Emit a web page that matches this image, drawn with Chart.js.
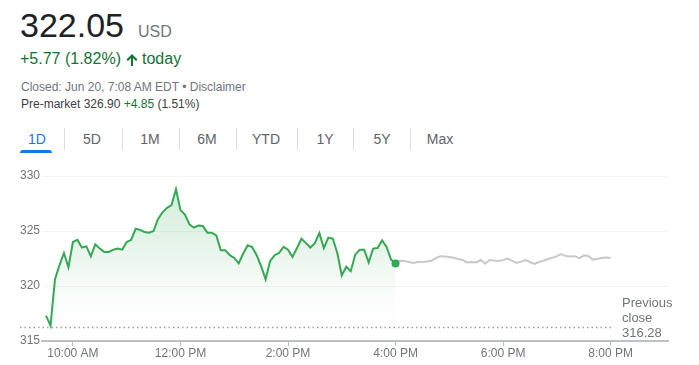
<!DOCTYPE html>
<html>
<head>
<meta charset="utf-8">
<script src="https://cdn.jsdelivr.net/npm/chart.js@4"></script>
<style>
  body { margin: 0; width: 699px; height: 365px; background: #fff; position: relative; overflow: hidden;
         font-family: Arial, "Liberation Sans", sans-serif; }
  .t { position: absolute; line-height: 1; white-space: nowrap; }
  .tab { position: absolute; top: 132px; width: 50px; text-align: center; font-size: 14px; line-height: 1; color: #5f6368; }
  .sep { position: absolute; top: 128px; width: 1px; height: 22px; background: #dadce0; }
  #chart { position: absolute; left: 0; top: 160px; }
</style>
</head>
<body>
<div class="t" style="left:20px;top:8px;font-size:34px;color:#202124;">322.05</div>
<div class="t" style="left:138px;top:23.5px;font-size:16px;color:#70757a;">USD</div>
<div class="t" style="left:20px;top:50.5px;font-size:16px;color:#137333;">+5.77 (1.82%)</div>
<svg style="position:absolute;left:126px;top:54px;" width="12" height="12" viewBox="0 0 12 12">
  <path d="M6 0 L11.5 5.5 L10 7 L7 4 L7 12 L5 12 L5 4 L2 7 L0.5 5.5 Z" fill="#137333"/>
</svg>
<div class="t" style="left:142px;top:50.5px;font-size:16px;color:#137333;">today</div>
<div class="t" style="left:21px;top:81px;font-size:12px;color:#70757a;">Closed: Jun 20, 7:08 AM EDT • Disclaimer</div>
<div class="t" style="left:21px;top:97.5px;font-size:12px;color:#3c4043;">Pre-market 326.90 <span style="color:#137333">+4.85</span> (1.51%)</div>

<div class="tab" style="left:12px;color:#1a73e8;">1D</div>
<div style="position:absolute;left:20px;top:150px;width:32px;height:3px;background:#1a73e8;border-radius:3px 3px 0 0;"></div>
<div class="sep" style="left:64px"></div>
<div class="tab" style="left:67px;">5D</div>
<div class="sep" style="left:122px"></div>
<div class="tab" style="left:125px;">1M</div>
<div class="sep" style="left:179px"></div>
<div class="tab" style="left:182px;">6M</div>
<div class="sep" style="left:236px"></div>
<div class="tab" style="left:241px;">YTD</div>
<div class="sep" style="left:297px"></div>
<div class="tab" style="left:300px;">1Y</div>
<div class="sep" style="left:353px"></div>
<div class="tab" style="left:357px;">5Y</div>
<div class="sep" style="left:410px"></div>
<div class="tab" style="left:415px;">Max</div>

<canvas id="chart" width="699" height="205"></canvas>

<script>
// 5-minute prices, regular session 9:30 AM - 4:00 PM
const regularPrices = [
  317.3, 316.4, 320.6, 321.9, 323.0, 321.7, 324.0, 324.2, 323.5, 323.6,
  322.7, 323.8, 323.4, 323.1, 323.1, 323.3, 323.4, 323.3, 324.0, 324.2,
  325.2, 325.1, 324.9, 324.85, 325.0, 326.1, 326.7, 327.1, 327.35, 328.8,
  326.9, 326.5, 325.6, 325.3, 325.5, 325.45, 324.85, 324.85, 324.6, 323.25,
  323.25, 322.8, 322.55, 322.05, 322.95, 323.7, 323.55, 322.8, 321.8, 320.6,
  322.25, 322.8, 323.0, 323.55, 323.3, 322.65, 323.45, 324.3, 323.9, 323.5,
  323.9, 324.8, 323.45, 324.4, 324.3, 323.0, 320.95, 321.75, 321.35, 322.85,
  323.3, 323.3, 322.15, 323.4, 323.45, 324.15, 323.55, 322.4, 322.05
];
// after hours 4:00 PM - 8:00 PM
const afterHoursPrices = [
  322.05, 322.3, 322.27, 322.18, 322.1, 322.18, 322.18, 322.22, 322.3, 322.54,
  322.71, 322.68, 322.63, 322.56, 322.45, 322.36, 322.13, 322.18, 322.13, 322.36,
  322.04, 322.36, 322.31, 322.27, 322.36, 322.5, 322.31, 322.09, 322.22, 322.36,
  322.18, 322.0, 322.18, 322.31, 322.45, 322.56, 322.72, 322.9, 322.72, 322.68,
  322.71, 322.54, 322.77, 322.72, 322.4, 322.45, 322.54, 322.59, 322.54
];
const tickMinutes = [600, 720, 840, 960, 1080, 1200];
const tickLabels = ['10:00 AM', '12:00 PM', '2:00 PM', '4:00 PM', '6:00 PM', '8:00 PM'];
const yTicks = [315, 320, 325, 330];
const previousClose = 316.28;
const openMinute = 570;
const closeMinute = 960;
const stepMinutes = 5;

const green = '#34a853';
const gray = '#70757a';

const prevClosePlugin = {
  id: 'prevClose',
  beforeDatasetsDraw(chart) {
    const ctx = chart.ctx;
    const y = Math.round(chart.scales.y.getPixelForValue(previousClose)) + 0.5;
    const xEnd = chart.scales.x.getPixelForValue(1200) + 2;
    ctx.save();
    ctx.strokeStyle = '#9aa0a6';
    ctx.lineWidth = 1.5;
    ctx.setLineDash([1.5, 3]);
    ctx.beginPath();
    ctx.moveTo(20, y);
    ctx.lineTo(xEnd, y);
    ctx.stroke();
    ctx.restore();
  },
  afterDraw(chart) {
    const ctx = chart.ctx;
    ctx.save();
    ctx.fillStyle = gray;
    ctx.font = '13px Arial, "Liberation Sans", sans-serif';
    ctx.textBaseline = 'middle';
    ctx.fillText('Previous', 622, 143);
    ctx.fillText('close', 622, 158);
    ctx.fillText(previousClose.toFixed(2), 622, 173);
    ctx.restore();
  }
};

new Chart(document.getElementById('chart'), {
  type: 'line',
  data: {
    datasets: [
      {
        label: 'Regular',
        data: regularPrices.map((p, i) => ({ x: openMinute + stepMinutes * i, y: p })),
        borderColor: green,
        borderWidth: 2,
        tension: 0,
        fill: 'start',
        backgroundColor: (c) => {
          const area = c.chart.chartArea;
          if (!area) return 'rgba(52,168,83,0.1)';
          const g = c.chart.ctx.createLinearGradient(0, area.top, 0, area.bottom);
          g.addColorStop(0, 'rgba(52,168,83,0.24)');
          g.addColorStop(0.75, 'rgba(52,168,83,0.02)');
          g.addColorStop(1, 'rgba(52,168,83,0)');
          return g;
        },
        pointRadius: (c) => (c.dataIndex === regularPrices.length - 1 ? 4 : 0),
        pointBackgroundColor: green,
        pointBorderWidth: 0,
        order: 0
      },
      {
        label: 'After hours',
        data: afterHoursPrices.map((p, i) => ({ x: closeMinute + stepMinutes * i, y: p })),
        borderColor: '#c8c8c8',
        borderWidth: 2,
        tension: 0,
        fill: false,
        pointRadius: 0,
        order: 1
      }
    ]
  },
  options: {
    responsive: false,
    animation: false,
    devicePixelRatio: 1,
    layout: { padding: { top: 16, right: 31, left: 0, bottom: 0 } },
    plugins: { legend: { display: false }, tooltip: { enabled: false } },
    scales: {
      x: {
        type: 'linear',
        min: 565.5,
        max: 1264,
        afterBuildTicks: (axis) => { axis.ticks = tickMinutes.map(v => ({ value: v })); },
        afterFit: (axis) => { axis.height = 24; },
        ticks: {
          autoSkip: false,
          maxRotation: 0,
          padding: 0,
          color: gray,
          font: { family: 'Arial, "Liberation Sans", sans-serif', size: 12 },
          callback: (v) => tickLabels[tickMinutes.indexOf(v)]
        },
        grid: { drawOnChartArea: false, drawTicks: true, tickLength: 5, color: '#bdc1c6' },
        border: { color: '#bdc1c6', width: 2 }
      },
      y: {
        min: 315,
        max: 330,
        afterBuildTicks: (axis) => { axis.ticks = yTicks.map(v => ({ value: v })); },
        afterFit: (axis) => { axis.width = 42; },
        ticks: {
          padding: 2,
          color: gray,
          font: { family: 'Arial, "Liberation Sans", sans-serif', size: 12 }
        },
        grid: { drawTicks: false, color: '#f1f3f4' },
        border: { display: false }
      }
    }
  },
  plugins: [prevClosePlugin]
});
</script>
</body>
</html>
